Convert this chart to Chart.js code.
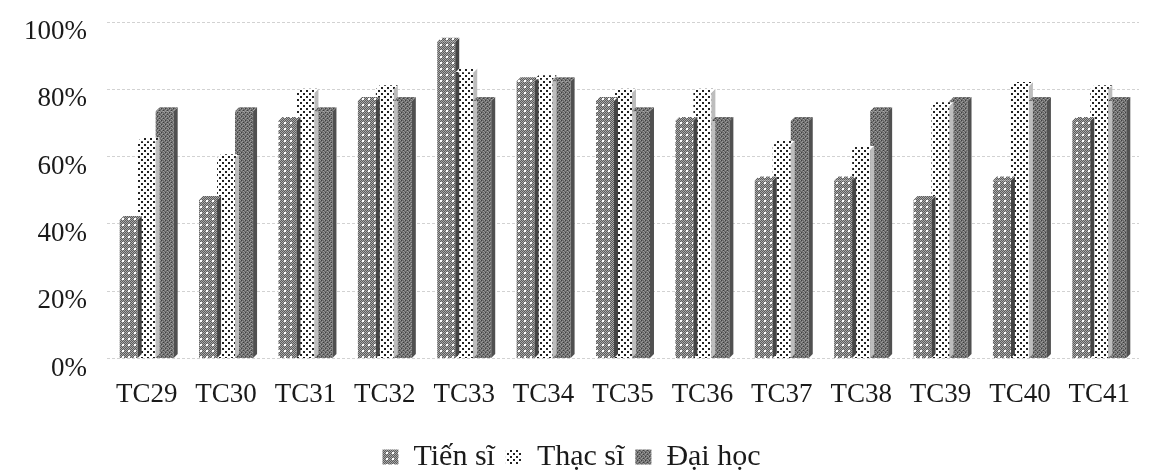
<!DOCTYPE html>
<html>
<head>
<meta charset="utf-8">
<script src="https://cdn.jsdelivr.net/npm/chart.js@4.4.0/dist/chart.umd.min.js"></script>
<style>
html,body{margin:0;padding:0;background:#fff;}
#wrap{width:1151px;height:471px;position:relative;}
</style>
</head>
<body>
<div id="wrap"><canvas id="c"></canvas></div>
<script>
const categories = ["TC29","TC30","TC31","TC32","TC33","TC34","TC35","TC36","TC37","TC38","TC39","TC40","TC41"];
const seriesNames = ["Tiến sĩ","Thạc sĩ","Đại học"];
const tienSi = [41.2, 47.1, 70.6, 76.5, 94.1, 82.4, 76.5, 70.6, 52.9, 52.9, 47.1, 52.9, 70.6];
const thacSi = [64.5, 59.5, 79.0, 80.0, 85.0, 83.0, 79.0, 79.0, 63.5, 62.0, 75.0, 81.0, 80.0];
const daiHoc = [73.5, 73.5, 73.5, 76.5, 76.5, 82.4, 73.5, 70.6, 70.6, 73.5, 76.5, 76.5, 76.5];
const yTicks = [0, 20, 40, 60, 80, 100];

function makePattern(kind){
  const c = document.createElement('canvas');
  const ctx = c.getContext('2d');
  if(kind === 0){
    c.width = 6; c.height = 6;
    ctx.fillStyle = '#5c5c5c'; ctx.fillRect(0,0,6,6);
    ctx.fillStyle = '#a8a8a8';
    for(let y=0;y<6;y++) for(let x=0;x<6;x++) if((x+y)%2===0) ctx.fillRect(x,y,1,1);
    ctx.fillStyle = '#ffffff';
    ctx.fillRect(2,2,2,2);
  } else if(kind === 1){
    c.width = 6; c.height = 6;
    ctx.fillStyle = '#ffffff'; ctx.fillRect(0,0,6,6);
    ctx.fillStyle = '#222222';
    ctx.fillRect(0,0,2,2);
    ctx.fillRect(3,3,2,2);
  } else {
    c.width = 4; c.height = 4;
    ctx.fillStyle = '#6e6e6e'; ctx.fillRect(0,0,4,4);
    ctx.fillStyle = '#9a9a9a';
    ctx.fillRect(0,0,1,1); ctx.fillRect(2,1,1,1); ctx.fillRect(1,2,1,1); ctx.fillRect(3,3,1,1);
    ctx.fillStyle = '#3e3e3e';
    ctx.fillRect(1,0,1,1); ctx.fillRect(3,2,1,1);
  }
  return document.getElementById('c').getContext('2d').createPattern(c,'repeat');
}
const sideColors = ['#444444','#bdbdbd','#505050'];
const patterns = [makePattern(0), makePattern(1), makePattern(2)];

const side3d = {
  id:'side3d',
  afterDatasetsDraw(chart){
    const ctx = chart.ctx;
    const d = 4;
    chart.data.datasets.forEach((ds,i)=>{
      const meta = chart.getDatasetMeta(i);
      meta.data.forEach(bar=>{
        const p = bar.getProps(['x','y','base','width'],true);
        const r = p.x + p.width/2, l = p.x - p.width/2;
        ctx.save();
        ctx.fillStyle = sideColors[i];
        ctx.beginPath();
        ctx.moveTo(r, p.y); ctx.lineTo(r+d, p.y-d); ctx.lineTo(r+d, p.base-d); ctx.lineTo(r, p.base);
        ctx.closePath(); ctx.fill();
        ctx.fillStyle = patterns[i];
        ctx.beginPath();
        ctx.moveTo(l, p.y); ctx.lineTo(l+d, p.y-d); ctx.lineTo(r+d, p.y-d); ctx.lineTo(r, p.y);
        ctx.closePath(); ctx.fill();
        ctx.restore();
      });
    });
  }
};

new Chart(document.getElementById('c'), {
  type:'bar',
  data:{
    labels: categories,
    datasets:[
      {label: seriesNames[0], data: tienSi, backgroundColor: patterns[0], borderWidth:0},
      {label: seriesNames[1], data: thacSi, backgroundColor: patterns[1], borderWidth:0},
      {label: seriesNames[2], data: daiHoc, backgroundColor: patterns[2], borderWidth:0}
    ]
  },
  options:{
    responsive:true,
    maintainAspectRatio:false,
    animation:false,
    layout:{padding:{left:4, right:12, top:22, bottom:-11}},
    datasets:{bar:{categoryPercentage:0.68, barPercentage:1.0}},
    scales:{
      x:{
        grid:{display:false, drawTicks:false},
        border:{display:false},
        ticks:{color:'#1a1a1a', font:{family:'"Liberation Serif"', size:27}, padding:20, maxRotation:0}
      },
      y:{
        min:0, max:100,
        afterBuildTicks(axis){ axis.ticks = yTicks.map(v=>({value:v})); },
        afterFit(scale){ scale.paddingTop = 0; scale.paddingBottom = 0; },
        grid:{color:'#d2d2d2', lineWidth:1, drawTicks:false},
        border:{display:false, dash:[3,2]},
        ticks:{color:'#1a1a1a', font:{family:'"Liberation Serif"', size:27, lineHeight:'20px'}, padding:20,
               callback:v=>['', v+'%']}
      }
    },
    plugins:{
      legend:{
        position:'bottom',
        labels:{color:'#1a1a1a', font:{family:'"Liberation Serif"', size:30},
                boxWidth:16, boxHeight:15, padding:11}
      },
      tooltip:{enabled:false}
    }
  },
  plugins:[side3d]
});
</script>
</body>
</html>
